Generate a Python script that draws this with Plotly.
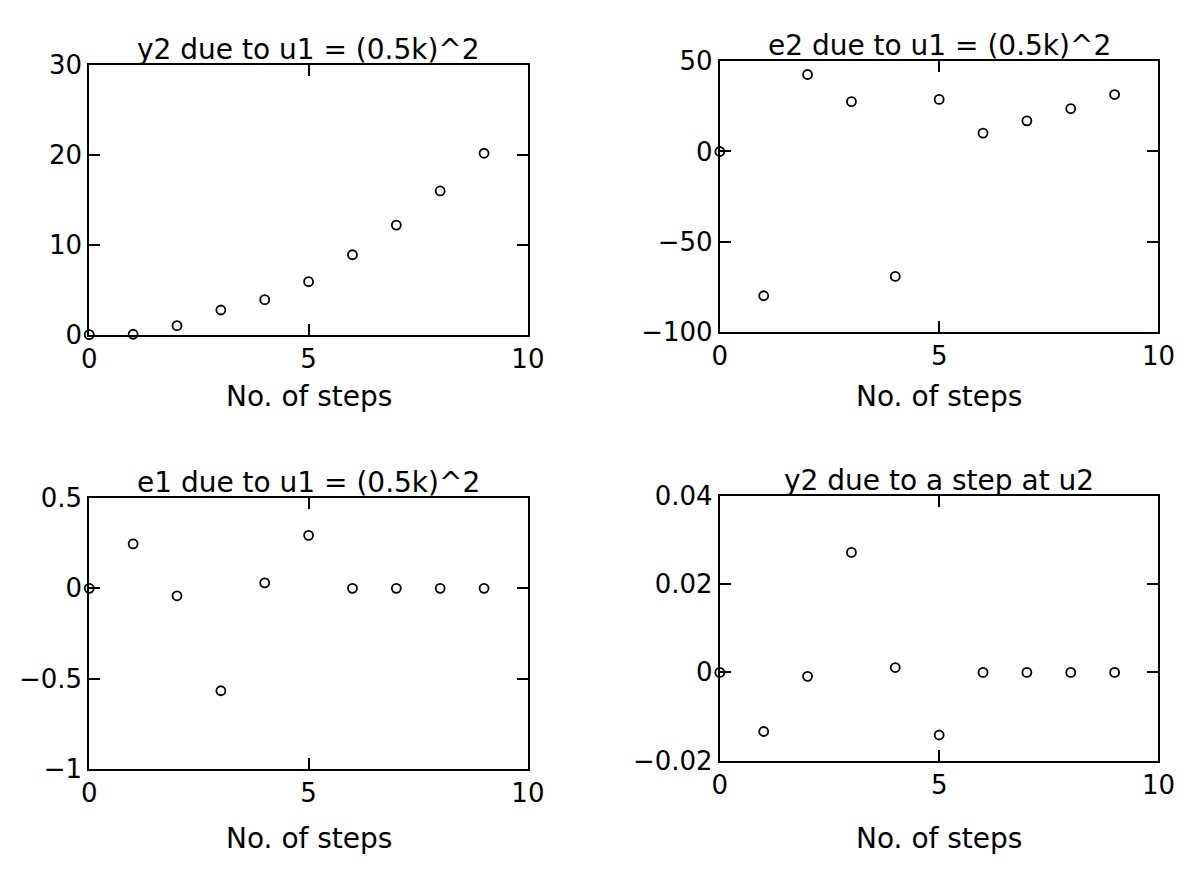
import plotly.graph_objects as go

W, H = 1198, 877

steps = [0, 1, 2, 3, 4, 5, 6, 7, 8, 9]
y2_u1 = [0, 0.05, 1.0, 2.75, 3.9, 5.9, 8.9, 12.2, 16.0, 20.2]
e2_u1 = [0, -80.0, 42.7, 27.7, -69.3, 28.9, 10.2, 17.0, 23.8, 31.6]
e1_u1 = [0, 0.246, -0.041, -0.566, 0.030, 0.293, 0, 0, 0, 0]
y2_u2 = [0, -0.0134, -0.0009, 0.0272, 0.0011, -0.0142, 0, 0, 0, 0]

titles = ["y2 due to u1 = (0.5k)^2", "e2 due to u1 = (0.5k)^2",
          "e1 due to u1 = (0.5k)^2", "y2 due to a step at u2"]
xlabel = "No. of steps"

x_ticks = [0, 5, 10]
x_ticktext = ["0", "5", "10"]
y_ticks = [[0, 10, 20, 30], [-100, -50, 0, 50], [-1, -0.5, 0, 0.5], [-0.02, 0, 0.02, 0.04]]
y_ticktext = [["0", "10", "20", "30"], ["\u2212100", "\u221250", "0", "50"],
              ["\u22121", "\u22120.5", "0", "0.5"], ["\u22120.02", "0", "0.02", "0.04"]]
y_ranges = [[0, 30], [-100, 50], [-1, 0.5], [-0.02, 0.04]]
series = [y2_u1, e2_u1, e1_u1, y2_u2]

# pixel boxes: left, right, top, bottom
boxes = [(83, 531, 52, 331), (727, 1175, 48, 328), (83, 531, 500, 781), (727, 1175, 498, 772)]
xlabel_y = [395, 395, 853, 853]

FONT = "DejaVu Sans"
fig = go.Figure()
layout = dict(width=W, height=H, margin=dict(l=0, r=0, t=0, b=0),
              paper_bgcolor="white", plot_bgcolor="white", showlegend=False,
              font=dict(family=FONT, size=26, color="black"))
annotations = []
for i in range(4):
    l, r, t, b = boxes[i]
    xs = "" if i == 0 else str(i + 1)
    fig.add_trace(go.Scatter(x=steps, y=series[i], mode="markers",
                             xaxis="x" + xs, yaxis="y" + xs, cliponaxis=False,
                             marker=dict(symbol="circle-open", size=9, color="black",
                                         line=dict(width=1.8, color="black"))))
    layout["xaxis" + xs] = dict(domain=[l / W, r / W], anchor="y" + xs, range=[0, 10],
                                tickvals=x_ticks, ticktext=x_ticktext, ticks="inside",
                                ticklen=11, tickwidth=1.5, tickcolor="black",
                                showline=True, mirror="ticks", linecolor="black", linewidth=2,
                                showgrid=False, zeroline=False, tickfont=dict(size=26))
    layout["yaxis" + xs] = dict(domain=[1 - b / H, 1 - t / H], anchor="x" + xs, range=y_ranges[i],
                                tickvals=y_ticks[i], ticktext=y_ticktext[i], ticks="inside",
                                ticklen=11, tickwidth=1.5, tickcolor="black",
                                showline=True, mirror="ticks", linecolor="black", linewidth=2,
                                showgrid=False, zeroline=False, tickfont=dict(size=26))
    annotations.append(dict(text=titles[i], x=(l + r) / 2 / W, y=1 - t / H, xref="paper", yref="paper",
                            xanchor="center", yanchor="bottom", yshift=-3, showarrow=False,
                            font=dict(size=28)))
    annotations.append(dict(text=xlabel, x=(l + r) / 2 / W, y=1 - xlabel_y[i] / H, xref="paper",
                            yref="paper", xanchor="center", yanchor="middle", showarrow=False,
                            font=dict(size=28)))
layout["annotations"] = annotations
fig.update_layout(**layout)
fig.write_html("out.html", config={"displayModeBar": False},
               post_script="document.body.style.margin='0px';document.body.style.overflow='hidden';")
